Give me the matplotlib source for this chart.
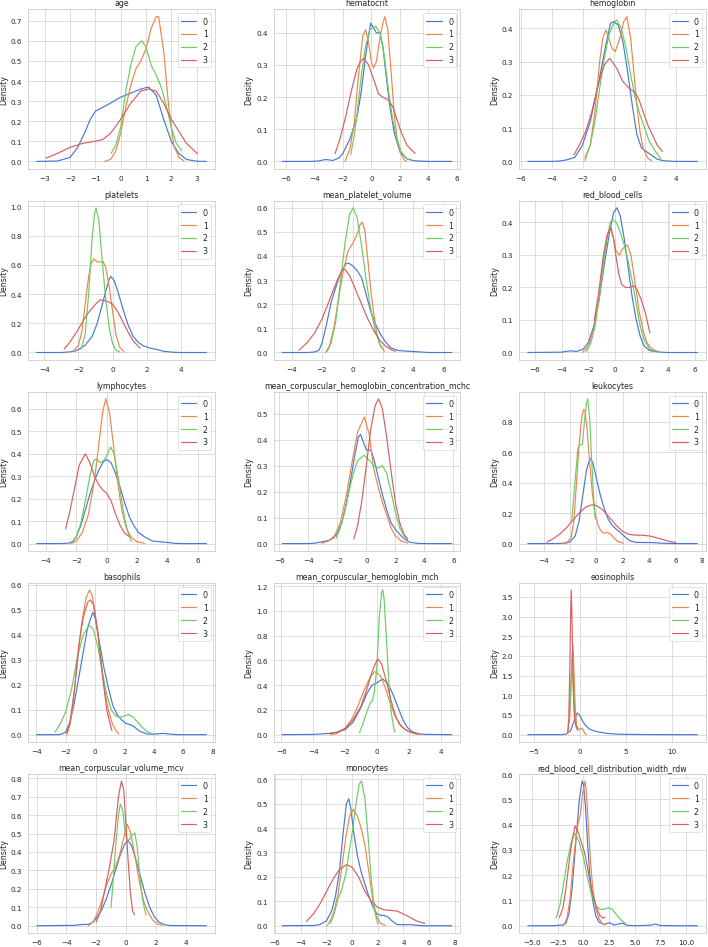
import matplotlib
matplotlib.use('Agg')
import matplotlib.pyplot as plt
import seaborn as sns

sns.set_theme(style='whitegrid', palette='muted')

# cluster labels (legend)
clusters = ['0', '1', '2', '3']

titles = ['age', 'hematocrit', 'hemoglobin',
          'platelets', 'mean_platelet_volume', 'red_blood_cells',
          'lymphocytes', 'mean_corpuscular_hemoglobin_concentration_mchc', 'leukocytes',
          'basophils', 'mean_corpuscular_hemoglobin_mch', 'eosinophils',
          'mean_corpuscular_volume_mcv', 'monocytes', 'red_blood_cell_distribution_width_rdw']

# density curves: one list of (x, density) per cluster
age = [
    [(-3.32, 0), (-2.5, 0.002), (-2.0, 0.02), (-1.7, 0.07), (-1.4, 0.15), (-1.2, 0.21), (-1.0, 0.25),
     (-0.7, 0.27), (-0.4, 0.29), (0.0, 0.32), (0.4, 0.34), (0.8, 0.36), (1.1, 0.37), (1.4, 0.33),
     (1.7, 0.21), (2.0, 0.10), (2.3, 0.04), (2.6, 0.01), (3.0, 0.001), (3.39, 0)],
    [(-0.64, 0), (-0.4, 0.01), (-0.2, 0.05), (0.0, 0.14), (0.2, 0.27), (0.4, 0.38), (0.6, 0.46),
     (0.8, 0.50), (1.0, 0.56), (1.2, 0.66), (1.4, 0.72), (1.5, 0.72), (1.7, 0.55), (1.9, 0.27),
     (2.1, 0.08), (2.3, 0.02), (2.5, 0.003)],
    [(-0.38, 0.04), (-0.2, 0.08), (0.0, 0.17), (0.2, 0.35), (0.4, 0.48), (0.6, 0.57), (0.83, 0.60),
     (1.0, 0.57), (1.2, 0.48), (1.4, 0.43), (1.6, 0.37), (1.8, 0.28), (2.0, 0.17), (2.2, 0.09),
     (2.41, 0.053)],
    [(-2.95, 0.017), (-2.5, 0.04), (-2.0, 0.07), (-1.5, 0.09), (-1.0, 0.10), (-0.7, 0.11), (-0.4, 0.14),
     (0.0, 0.21), (0.4, 0.29), (0.8, 0.35), (1.1, 0.36), (1.4, 0.35), (1.7, 0.29), (2.0, 0.21),
     (2.3, 0.15), (2.6, 0.09), (3.04, 0.038)],
]

hematocrit = [
    [(-6.25, 0), (-4.5, 0), (-3.8, 0.001), (-3.2, 0.006), (-2.7, 0.003), (-2.3, 0.01), (-2.0, 0.025),
     (-1.5, 0.07), (-1.0, 0.14), (-0.7, 0.22), (-0.4, 0.33), (-0.2, 0.39), (-0.05, 0.43), (0.15, 0.415),
     (0.35, 0.40), (0.6, 0.40), (0.8, 0.36), (1.0, 0.28), (1.3, 0.17), (1.6, 0.09), (2.0, 0.03),
     (2.5, 0.008), (3.0, 0.002), (4.0, 0), (5.65, 0)],
    [(-1.85, 0), (-1.5, 0.04), (-1.2, 0.12), (-0.9, 0.27), (-0.6, 0.39), (-0.4, 0.41), (-0.2, 0.37),
     (0.0, 0.31), (0.15, 0.29), (0.35, 0.31), (0.55, 0.37), (0.8, 0.43), (0.95, 0.45), (1.15, 0.41),
     (1.4, 0.27), (1.6, 0.15), (1.8, 0.07), (2.0, 0.03), (2.3, 0.005), (2.46, 0)],
    [(-1.45, 0.02), (-1.2, 0.08), (-1.0, 0.15), (-0.7, 0.27), (-0.4, 0.36), (-0.1, 0.41), (0.3, 0.42),
     (0.6, 0.40), (0.9, 0.33), (1.2, 0.22), (1.5, 0.13), (1.8, 0.07), (2.1, 0.03), (2.4, 0.012),
     (2.65, 0.005)],
    [(-2.55, 0.024), (-2.2, 0.07), (-1.8, 0.14), (-1.4, 0.22), (-1.0, 0.29), (-0.7, 0.315), (-0.5, 0.32),
     (-0.2, 0.30), (0.2, 0.25), (0.5, 0.21), (0.8, 0.20), (1.2, 0.19), (1.5, 0.17), (1.8, 0.13),
     (2.1, 0.09), (2.5, 0.05), (3.07, 0.025)],
]

hemoglobin = [
    [(-5.53, 0), (-4.0, 0), (-3.5, 0.001), (-3.0, 0.005), (-2.5, 0.012), (-2.0, 0.05), (-1.5, 0.12),
     (-1.0, 0.23), (-0.5, 0.35), (-0.2, 0.415), (0.0, 0.42), (0.3, 0.41), (0.6, 0.36), (0.9, 0.27),
     (1.2, 0.17), (1.5, 0.08), (1.8, 0.04), (2.1, 0.03), (2.4, 0.02), (2.8, 0.007), (3.2, 0.002),
     (4.0, 0), (5.4, 0)],
    [(-1.85, 0.003), (-1.5, 0.05), (-1.2, 0.15), (-0.9, 0.30), (-0.7, 0.37), (-0.5, 0.395), (-0.3, 0.37),
     (-0.1, 0.34), (0.1, 0.33), (0.4, 0.37), (0.65, 0.42), (0.85, 0.435), (1.1, 0.37), (1.3, 0.27),
     (1.5, 0.17), (1.7, 0.09), (1.9, 0.04), (2.2, 0.01), (2.45, 0.002)],
    [(-1.85, 0.012), (-1.5, 0.05), (-1.2, 0.12), (-0.9, 0.22), (-0.6, 0.31), (-0.3, 0.38), (0.0, 0.415),
     (0.2, 0.425), (0.5, 0.40), (0.8, 0.34), (1.1, 0.26), (1.4, 0.19), (1.7, 0.14), (2.0, 0.10),
     (2.3, 0.06), (2.7, 0.03), (3.05, 0.007)],
    [(-2.56, 0.02), (-2.2, 0.05), (-1.8, 0.09), (-1.4, 0.15), (-1.0, 0.23), (-0.6, 0.29), (-0.25, 0.31),
     (0.2, 0.28), (0.6, 0.24), (1.0, 0.22), (1.3, 0.21), (1.6, 0.19), (1.9, 0.15), (2.2, 0.11),
     (2.5, 0.08), (2.8, 0.05), (3.14, 0.03)],
]

platelets = [
    [(-4.43, 0), (-3.0, 0), (-2.5, 0.004), (-2.2, 0.01), (-2.0, 0.02), (-1.6, 0.05), (-1.2, 0.11),
     (-0.9, 0.2), (-0.6, 0.33), (-0.4, 0.42), (-0.2, 0.50), (-0.1, 0.52), (0.1, 0.49), (0.3, 0.42),
     (0.6, 0.30), (0.9, 0.19), (1.2, 0.11), (1.5, 0.07), (1.8, 0.045), (2.2, 0.03), (2.6, 0.02),
     (3.0, 0.008), (3.5, 0.002), (4.0, 0), (5.48, 0)],
    [(-2.29, 0.01), (-2.0, 0.05), (-1.8, 0.14), (-1.6, 0.33), (-1.4, 0.52), (-1.25, 0.61), (-1.1, 0.64),
     (-0.9, 0.62), (-0.7, 0.62), (-0.55, 0.62), (-0.4, 0.58), (-0.2, 0.45), (0.0, 0.28), (0.2, 0.12),
     (0.4, 0.04), (0.66, 0.005)],
    [(-1.84, 0.02), (-1.6, 0.13), (-1.4, 0.40), (-1.2, 0.78), (-1.05, 0.95), (-0.97, 0.99), (-0.8, 0.90),
     (-0.6, 0.62), (-0.4, 0.36), (-0.2, 0.17), (0.0, 0.06), (0.2, 0.015), (0.43, 0.003)],
    [(-2.82, 0.025), (-2.5, 0.07), (-2.0, 0.16), (-1.5, 0.26), (-1.0, 0.33), (-0.74, 0.36), (-0.3, 0.35),
     (0.0, 0.33), (0.3, 0.28), (0.6, 0.21), (0.9, 0.14), (1.2, 0.08), (1.6, 0.03)],
]

mean_platelet_volume = [
    [(-4.62, 0), (-3.0, 0), (-2.5, 0.002), (-2.2, 0.01), (-2.0, 0.04), (-1.7, 0.12), (-1.4, 0.21),
     (-1.0, 0.29), (-0.7, 0.34), (-0.4, 0.37), (-0.25, 0.37), (0.0, 0.36), (0.3, 0.34), (0.6, 0.31),
     (0.9, 0.24), (1.2, 0.17), (1.5, 0.12), (1.8, 0.08), (2.1, 0.05), (2.5, 0.02), (3.0, 0.008),
     (3.5, 0.006), (4.0, 0.004), (5.0, 0), (6.54, 0)],
    [(-1.77, 0), (-1.5, 0.03), (-1.2, 0.11), (-0.9, 0.23), (-0.6, 0.34), (-0.3, 0.42), (0.0, 0.45),
     (0.3, 0.49), (0.5, 0.53), (0.63, 0.54), (0.8, 0.51), (1.0, 0.39), (1.2, 0.26), (1.4, 0.16),
     (1.6, 0.08), (1.8, 0.03), (2.1, 0.005)],
    [(-1.66, 0.005), (-1.4, 0.04), (-1.1, 0.13), (-0.8, 0.29), (-0.5, 0.45), (-0.2, 0.57), (0.04, 0.60),
     (0.3, 0.56), (0.6, 0.44), (0.9, 0.30), (1.2, 0.18), (1.5, 0.09), (1.8, 0.035), (2.0, 0.015)],
    [(-3.52, 0.01), (-3.0, 0.04), (-2.5, 0.08), (-2.0, 0.14), (-1.5, 0.22), (-1.0, 0.30), (-0.7, 0.34),
     (-0.5, 0.345), (-0.2, 0.32), (0.2, 0.26), (0.6, 0.20), (1.0, 0.14), (1.4, 0.09), (1.8, 0.05),
     (2.2, 0.025), (2.6, 0.01), (2.83, 0.005)],
]

red_blood_cells = [
    [(-6.55, 0), (-4.0, 0.001), (-3.6, 0.004), (-3.3, 0.005), (-2.9, 0.003), (-2.4, 0.01), (-2.0, 0.03),
     (-1.6, 0.08), (-1.2, 0.16), (-0.8, 0.27), (-0.4, 0.37), (-0.1, 0.43), (0.15, 0.445), (0.4, 0.42),
     (0.7, 0.35), (1.0, 0.26), (1.3, 0.17), (1.6, 0.10), (1.9, 0.05), (2.2, 0.02), (2.6, 0.006),
     (3.0, 0.003), (3.5, 0.001), (4.0, 0), (6.2, 0)],
    [(-2.43, 0), (-2.0, 0.02), (-1.6, 0.07), (-1.2, 0.17), (-0.8, 0.30), (-0.5, 0.37), (-0.35, 0.385),
     (-0.1, 0.35), (0.1, 0.31), (0.35, 0.30), (0.6, 0.32), (0.95, 0.33), (1.2, 0.30), (1.5, 0.22),
     (1.8, 0.13), (2.1, 0.07), (2.4, 0.03), (2.8, 0.01), (3.33, 0.002)],
    [(-2.18, 0.003), (-1.8, 0.03), (-1.5, 0.08), (-1.2, 0.16), (-0.9, 0.26), (-0.6, 0.35), (-0.35, 0.40),
     (-0.18, 0.41), (0.1, 0.40), (0.4, 0.37), (0.7, 0.33), (1.0, 0.28), (1.3, 0.22), (1.6, 0.15),
     (1.9, 0.08), (2.2, 0.04), (2.6, 0.01), (3.08, 0.003)],
    [(-1.55, 0.10), (-1.2, 0.19), (-0.9, 0.29), (-0.6, 0.36), (-0.3, 0.385), (-0.1, 0.35), (0.1, 0.29),
     (0.3, 0.24), (0.5, 0.21), (0.8, 0.20), (1.1, 0.20), (1.45, 0.205), (1.7, 0.19), (2.0, 0.16),
     (2.3, 0.12), (2.63, 0.06)],
]

lymphocytes = [
    [(-4.6, 0), (-3.0, 0), (-2.5, 0.002), (-2.2, 0.01), (-2.0, 0.03), (-1.7, 0.08), (-1.4, 0.15),
     (-1.1, 0.22), (-0.8, 0.28), (-0.5, 0.33), (-0.2, 0.365), (0.0, 0.375), (0.3, 0.36), (0.6, 0.31),
     (0.9, 0.25), (1.2, 0.18), (1.5, 0.12), (1.8, 0.08), (2.1, 0.05), (2.5, 0.03), (3.0, 0.012),
     (3.5, 0.008), (4.0, 0.005), (4.5, 0.001), (5.0, 0), (6.58, 0)],
    [(-2.35, 0), (-2.0, 0.01), (-1.6, 0.05), (-1.2, 0.13), (-0.8, 0.28), (-0.5, 0.45), (-0.25, 0.59),
     (-0.05, 0.645), (0.2, 0.58), (0.4, 0.47), (0.6, 0.35), (0.8, 0.24), (1.0, 0.15), (1.3, 0.07),
     (1.6, 0.03), (2.0, 0.008), (2.5, 0.001)],
    [(-2.3, 0.007), (-2.0, 0.03), (-1.7, 0.09), (-1.4, 0.19), (-1.1, 0.30), (-0.85, 0.37), (-0.66, 0.377),
     (-0.4, 0.36), (-0.2, 0.37), (0.0, 0.39), (0.26, 0.43), (0.5, 0.40), (0.8, 0.28), (1.0, 0.19),
     (1.2, 0.11), (1.4, 0.05), (1.64, 0.01)],
    [(-2.7, 0.065), (-2.4, 0.15), (-2.1, 0.25), (-1.8, 0.35), (-1.4, 0.40), (-1.1, 0.36), (-0.8, 0.30),
     (-0.5, 0.26), (-0.2, 0.235), (0.0, 0.225), (0.3, 0.19), (0.6, 0.13), (0.9, 0.08), (1.2, 0.045),
     (1.47, 0.032)],
]

mchc = [
    [(-5.8, 0), (-4.0, 0), (-3.5, 0.002), (-3.0, 0.008), (-2.6, 0.012), (-2.3, 0.02), (-2.0, 0.04),
     (-1.7, 0.08), (-1.4, 0.15), (-1.1, 0.24), (-0.8, 0.34), (-0.55, 0.41), (-0.41, 0.42), (-0.2, 0.39),
     (0.0, 0.36), (0.3, 0.36), (0.5, 0.33), (0.8, 0.26), (1.1, 0.19), (1.4, 0.13), (1.7, 0.08),
     (2.0, 0.055), (2.3, 0.035), (2.7, 0.015), (3.0, 0.005), (3.5, 0.001), (4.0, 0), (5.9, 0)],
    [(-3.1, 0.001), (-2.6, 0.01), (-2.2, 0.03), (-1.8, 0.08), (-1.4, 0.18), (-1.0, 0.31), (-0.6, 0.43),
     (-0.14, 0.487), (0.2, 0.42), (0.5, 0.29), (0.8, 0.22), (1.1, 0.16), (1.4, 0.11), (1.7, 0.06),
     (2.0, 0.03), (2.4, 0.01), (2.85, 0.002)],
    [(-2.1, 0.02), (-1.8, 0.06), (-1.5, 0.12), (-1.2, 0.20), (-0.9, 0.27), (-0.6, 0.32), (-0.16, 0.34),
     (0.2, 0.32), (0.5, 0.30), (0.8, 0.29), (1.1, 0.30), (1.4, 0.27), (1.7, 0.20), (2.0, 0.12),
     (2.3, 0.06), (2.6, 0.03), (2.85, 0.015)],
    [(-0.87, 0.018), (-0.6, 0.07), (-0.3, 0.17), (0.0, 0.30), (0.3, 0.44), (0.6, 0.53), (0.84, 0.557),
     (1.1, 0.52), (1.4, 0.41), (1.7, 0.28), (2.0, 0.16), (2.3, 0.08), (2.6, 0.035), (2.85, 0.018)],
]

leukocytes = [
    [(-5.19, 0), (-3.0, 0), (-2.3, 0.003), (-2.0, 0.01), (-1.6, 0.05), (-1.3, 0.15), (-1.0, 0.33),
     (-0.75, 0.48), (-0.48, 0.56), (-0.25, 0.53), (0.0, 0.43), (0.3, 0.32), (0.6, 0.23), (0.9, 0.16),
     (1.2, 0.12), (1.5, 0.095), (1.8, 0.075), (2.1, 0.05), (2.5, 0.02), (3.0, 0.008), (3.5, 0.007),
     (4.0, 0.007), (4.5, 0.005), (5.0, 0.002), (6.0, 0), (7.66, 0)],
    [(-2.6, 0), (-2.2, 0.01), (-1.9, 0.04), (-1.7, 0.15), (-1.5, 0.40), (-1.3, 0.65), (-1.1, 0.83),
     (-0.96, 0.88), (-0.85, 0.87), (-0.7, 0.75), (-0.5, 0.53), (-0.3, 0.33), (-0.1, 0.20), (0.1, 0.13),
     (0.3, 0.09), (0.5, 0.07), (0.7, 0.07), (0.86, 0.074), (1.1, 0.06), (1.3, 0.04), (1.6, 0.015),
     (2.06, 0.002)],
    [(-1.86, 0.15), (-1.6, 0.42), (-1.4, 0.62), (-1.25, 0.65), (-1.05, 0.65), (-0.9, 0.80), (-0.75, 0.92),
     (-0.65, 0.95), (-0.5, 0.82), (-0.35, 0.55), (-0.2, 0.30), (-0.08, 0.16)],
    [(-3.75, 0.01), (-3.3, 0.03), (-2.8, 0.06), (-2.3, 0.10), (-1.8, 0.15), (-1.3, 0.20), (-0.8, 0.24),
     (-0.35, 0.254), (0.0, 0.25), (0.5, 0.22), (1.0, 0.17), (1.5, 0.12), (2.0, 0.08), (2.5, 0.06),
     (3.0, 0.055), (3.5, 0.055), (4.0, 0.05), (4.5, 0.04), (5.0, 0.028), (5.5, 0.015), (6.02, 0.007)],
]

basophils = [
    [(-3.96, 0), (-2.5, 0), (-2.3, 0.002), (-2.0, 0.01), (-1.7, 0.05), (-1.4, 0.13), (-1.1, 0.23),
     (-0.8, 0.33), (-0.5, 0.43), (-0.15, 0.49), (0.0, 0.47), (0.3, 0.37), (0.6, 0.27), (0.9, 0.19),
     (1.2, 0.12), (1.5, 0.08), (1.8, 0.06), (2.1, 0.045), (2.4, 0.04), (2.7, 0.03), (3.0, 0.015),
     (3.5, 0.003), (4.0, 0.002), (4.6, 0.005), (5.0, 0.003), (5.5, 0), (7.58, 0)],
    [(-1.92, 0), (-1.7, 0.04), (-1.5, 0.12), (-1.2, 0.29), (-0.9, 0.45), (-0.6, 0.55), (-0.37, 0.58),
     (-0.2, 0.56), (0.0, 0.49), (0.3, 0.35), (0.6, 0.20), (0.9, 0.10), (1.2, 0.04), (1.5, 0.01),
     (1.61, 0.004)],
    [(-2.72, 0.01), (-2.4, 0.04), (-2.0, 0.09), (-1.6, 0.18), (-1.2, 0.31), (-0.8, 0.40), (-0.5, 0.43),
     (-0.31, 0.435), (-0.1, 0.42), (0.2, 0.35), (0.5, 0.25), (0.8, 0.16), (1.1, 0.10), (1.4, 0.075),
     (1.7, 0.07), (2.0, 0.075), (2.3, 0.081), (2.6, 0.07), (2.9, 0.05), (3.2, 0.03), (3.6, 0.01),
     (3.93, 0.003)],
    [(-1.92, 0.004), (-1.7, 0.05), (-1.4, 0.18), (-1.1, 0.36), (-0.8, 0.47), (-0.5, 0.53), (-0.31, 0.54),
     (-0.1, 0.52), (0.2, 0.41), (0.5, 0.24), (0.8, 0.10), (1.0, 0.05), (1.15, 0.017)],
]

mch = [
    [(-5.94, 0), (-4.0, 0.002), (-3.0, 0.01), (-2.5, 0.02), (-2.0, 0.04), (-1.5, 0.10), (-1.0, 0.22),
     (-0.6, 0.34), (-0.3, 0.40), (0.0, 0.42), (0.37, 0.45), (0.7, 0.41), (1.0, 0.33), (1.3, 0.23),
     (1.6, 0.13), (1.9, 0.06), (2.2, 0.025), (2.6, 0.008), (3.0, 0.002), (4.71, 0)],
    [(-2.91, 0), (-2.5, 0.01), (-2.0, 0.05), (-1.6, 0.12), (-1.2, 0.23), (-0.8, 0.36), (-0.4, 0.47),
     (-0.14, 0.51), (0.2, 0.48), (0.5, 0.39), (0.8, 0.27), (1.1, 0.16), (1.4, 0.09), (1.7, 0.05),
     (2.0, 0.025), (2.4, 0.01), (2.71, 0.002)],
    [(-1.09, 0.015), (-0.9, 0.08), (-0.7, 0.16), (-0.5, 0.23), (-0.4, 0.26), (-0.3, 0.27), (-0.15, 0.35),
     (0.0, 0.55), (0.15, 0.95), (0.3, 1.15), (0.37, 1.17), (0.45, 1.1), (0.6, 0.78), (0.75, 0.42),
     (0.9, 0.18), (1.05, 0.06), (1.14, 0.02)],
    [(-2.94, 0.008), (-2.5, 0.02), (-2.0, 0.05), (-1.5, 0.12), (-1.0, 0.23), (-0.6, 0.38), (-0.3, 0.51),
     (0.0, 0.60), (0.09, 0.61), (0.3, 0.57), (0.6, 0.43), (0.9, 0.27), (1.2, 0.14), (1.5, 0.07),
     (1.8, 0.04), (2.1, 0.02), (2.4, 0.008), (2.57, 0.004)],
]

eosinophils = [
    [(-5.66, 0), (-2.0, 0.001), (-1.5, 0.01), (-1.0, 0.1), (-0.7, 0.3), (-0.4, 0.50), (-0.25, 0.55),
     (0.0, 0.48), (0.3, 0.35), (0.6, 0.24), (1.0, 0.15), (1.5, 0.10), (2.0, 0.07), (3.0, 0.03),
     (4.0, 0.015), (5.0, 0.008), (7.0, 0.003), (9.0, 0.001), (10.0, 0), (12.8, 0)],
    [(-1.58, 0), (-1.3, 0.05), (-1.1, 0.4), (-0.95, 1.2), (-0.85, 2.0), (-0.75, 2.3), (-0.65, 1.7),
     (-0.5, 0.7), (-0.35, 0.25), (-0.2, 0.15), (-0.05, 0.12), (0.1, 0.15), (0.25, 0.17), (0.4, 0.10),
     (0.55, 0.03), (0.74, 0.005)],
    [(-1.15, 0.52), (-1.0, 1.1), (-0.85, 1.89), (-0.7, 1.2), (-0.55, 0.5), (-0.4, 0.2), (-0.25, 0.1)],
    [(-1.33, 0.05), (-1.2, 0.4), (-1.1, 1.5), (-1.0, 3.0), (-0.94, 3.68), (-0.85, 3.0), (-0.75, 1.6),
     (-0.65, 0.7), (-0.55, 0.35), (-0.45, 0.25), (-0.35, 0.2), (-0.25, 0.15)],
]

mcv = [
    [(-5.98, 0), (-3.5, 0.002), (-3.0, 0.006), (-2.5, 0.008), (-2.2, 0.02), (-1.9, 0.05), (-1.6, 0.09),
     (-1.3, 0.15), (-1.0, 0.22), (-0.7, 0.30), (-0.4, 0.38), (-0.1, 0.44), (0.15, 0.462), (0.4, 0.43),
     (0.7, 0.35), (1.0, 0.26), (1.3, 0.17), (1.6, 0.10), (1.9, 0.05), (2.2, 0.02), (2.6, 0.005),
     (3.0, 0.001), (5.4, 0)],
    [(-2.53, 0), (-2.2, 0.02), (-1.9, 0.07), (-1.6, 0.14), (-1.3, 0.22), (-1.0, 0.28), (-0.7, 0.32),
     (-0.4, 0.39), (-0.2, 0.46), (0.0, 0.52), (0.09, 0.55), (0.3, 0.51), (0.6, 0.38), (0.9, 0.24),
     (1.2, 0.13), (1.5, 0.07), (1.8, 0.03), (2.1, 0.01), (2.44, 0.002)],
    [(-1.0, 0.10), (-0.85, 0.25), (-0.7, 0.42), (-0.5, 0.60), (-0.37, 0.66), (-0.2, 0.62), (-0.05, 0.50),
     (0.1, 0.46), (0.25, 0.47), (0.4, 0.49), (0.6, 0.503), (0.75, 0.43), (0.9, 0.30), (1.1, 0.15),
     (1.34, 0.058)],
    [(-2.0, 0.02), (-1.7, 0.08), (-1.4, 0.20), (-1.1, 0.32), (-0.8, 0.46), (-0.5, 0.70), (-0.3, 0.785),
     (-0.15, 0.74), (0.0, 0.55), (0.15, 0.35), (0.3, 0.18), (0.45, 0.08), (0.58, 0.06)],
]

monocytes = [
    [(-5.44, 0), (-3.0, 0.001), (-2.5, 0.005), (-2.0, 0.02), (-1.6, 0.06), (-1.3, 0.12), (-1.0, 0.22),
     (-0.7, 0.38), (-0.45, 0.50), (-0.26, 0.52), (-0.1, 0.48), (0.1, 0.39), (0.4, 0.29), (0.7, 0.22),
     (1.0, 0.17), (1.3, 0.12), (1.6, 0.08), (1.9, 0.05), (2.2, 0.043), (2.5, 0.042), (2.8, 0.035),
     (3.1, 0.02), (3.5, 0.005), (4.0, 0.004), (4.5, 0.005), (5.0, 0.002), (5.5, 0), (7.77, 0)],
    [(-1.94, 0), (-1.7, 0.02), (-1.4, 0.06), (-1.1, 0.13), (-0.8, 0.24), (-0.5, 0.36), (-0.2, 0.45),
     (0.1, 0.476), (0.4, 0.45), (0.7, 0.40), (1.0, 0.33), (1.3, 0.22), (1.6, 0.11), (1.9, 0.04),
     (2.2, 0.01), (2.59, 0.001)],
    [(-1.68, 0.01), (-1.4, 0.05), (-1.1, 0.11), (-0.8, 0.15), (-0.5, 0.21), (-0.3, 0.28), (0.0, 0.38),
     (0.3, 0.50), (0.55, 0.58), (0.73, 0.593), (1.0, 0.52), (1.25, 0.36), (1.5, 0.18), (1.75, 0.06),
     (2.0, 0.007)],
    [(-3.55, 0.018), (-3.0, 0.05), (-2.5, 0.09), (-2.0, 0.14), (-1.5, 0.19), (-1.0, 0.23), (-0.44, 0.25),
     (0.0, 0.24), (0.5, 0.20), (1.0, 0.14), (1.5, 0.10), (2.0, 0.075), (2.5, 0.065), (3.0, 0.063),
     (3.5, 0.06), (4.0, 0.048), (4.5, 0.035), (5.0, 0.02), (5.65, 0.009)],
]

rdw = [
    [(-5.42, 0), (-3.0, 0), (-2.0, 0.003), (-1.7, 0.01), (-1.4, 0.05), (-1.1, 0.15), (-0.8, 0.30),
     (-0.6, 0.40), (-0.4, 0.50), (-0.13, 0.573), (0.0, 0.56), (0.2, 0.47), (0.4, 0.33), (0.6, 0.21),
     (0.9, 0.10), (1.2, 0.04), (1.5, 0.015), (2.0, 0.005), (2.5, 0.012), (3.0, 0.003), (3.5, 0.008),
     (3.8, 0.01), (4.2, 0.002), (5.0, 0), (6.5, 0.002), (7.0, 0.007), (7.5, 0.001), (8.5, 0), (11.1, 0)],
    [(-1.95, 0), (-1.6, 0.03), (-1.3, 0.11), (-1.0, 0.25), (-0.7, 0.36), (-0.5, 0.41), (-0.3, 0.44),
     (-0.1, 0.52), (0.16, 0.573), (0.3, 0.52), (0.5, 0.38), (0.7, 0.25), (0.9, 0.15), (1.2, 0.07),
     (1.5, 0.03), (1.8, 0.01), (2.1, 0.003)],
    [(-2.66, 0.03), (-2.3, 0.08), (-2.0, 0.15), (-1.6, 0.25), (-1.2, 0.33), (-0.81, 0.367), (-0.4, 0.33),
     (0.0, 0.27), (0.4, 0.19), (0.8, 0.12), (1.2, 0.08), (1.6, 0.065), (2.0, 0.065), (2.43, 0.072),
     (2.8, 0.065), (3.2, 0.045), (3.6, 0.025), (4.16, 0.007)],
    [(-2.34, 0.033), (-2.0, 0.07), (-1.7, 0.15), (-1.4, 0.25), (-1.1, 0.34), (-0.81, 0.395), (-0.5, 0.37),
     (-0.2, 0.33), (0.1, 0.29), (0.4, 0.23), (0.7, 0.16), (1.0, 0.11), (1.3, 0.07), (1.6, 0.04),
     (1.9, 0.03), (2.1, 0.033)],
]

panels = [age, hematocrit, hemoglobin,
          platelets, mean_platelet_volume, red_blood_cells,
          lymphocytes, mchc, leukocytes,
          basophils, mch, eosinophils,
          mcv, monocytes, rdw]

DPI = 47.2
fig, axes = plt.subplots(5, 3, figsize=(708 / DPI, 948 / DPI), dpi=DPI)
fig.subplots_adjust(left=0.040, right=0.997, top=0.989, bottom=0.0148,
                    wspace=0.316, hspace=0.2)

for ax, title, curves in zip(axes.flat, titles, panels):
    for label, pts in zip(clusters, curves):
        xs, ys = zip(*pts)
        ax.plot(xs, ys, label=label, linewidth=1.8)
    ax.set_title(title)
    ax.set_ylabel('Density')
    ax.legend(loc='upper right', fontsize=12)

fig.savefig('out.png', dpi=DPI)
